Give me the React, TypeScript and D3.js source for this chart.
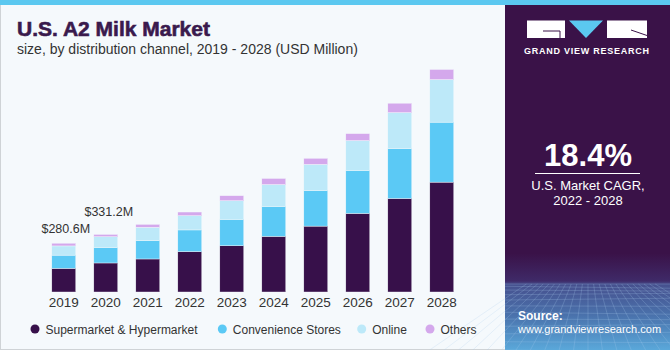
import React from "react";
import * as d3 from "d3";

const years = ["2019","2020","2021","2022","2023","2024","2025","2026","2027","2028"];
const supermarket = [136, 167, 190, 232, 266, 320, 379, 452, 538, 632];
const convenience = [76, 89, 105, 125, 152, 172, 205, 247, 287, 345];
const online = [53, 62, 77, 82, 107, 126, 150, 172, 207, 245];
const others = [15.6, 13.2, 17, 21, 29, 35, 35, 40, 54, 58];
const seriesNames = ["Supermarket & Hypermarket", "Convenience Stores", "Online", "Others"];
const seriesColors = ["#37104a", "#5bc9f5", "#bde9f9", "#d4a8ec"];
const annotations = [
  { year: "2019", label: "$280.6M" },
  { year: "2020", label: "$331.2M" },
];

const W = 670, H = 350;
const FONT = "'Liberation Sans', Arial, sans-serif";

export default function App() {
  const x = d3.scaleBand<string>().domain(years).range([42.8, 462.8]).paddingInner(0.43).paddingOuter(0.215);
  const y = d3.scaleLinear().domain([0, 1300]).range([292, 66]);
  const rows = years.map((yr, i) => ({
    year: yr, s0: supermarket[i], s1: convenience[i], s2: online[i], s3: others[i],
  }));
  const stack = d3.stack<any>().keys(["s0", "s1", "s2", "s3"])(rows);
  const totals = rows.map(r => r.s0 + r.s1 + r.s2 + r.s3);

  const legendX = [35, 222.3, 361.7, 430];
  const annoOffset = [{ dx: 2, dy: 10 }, { dx: 3, dy: 18 }];

  // perspective grid for panel bottom
  const gridLines: JSX.Element[] = [];
  for (let i = 0; i < 24; i++) {
    const gx = 500 + i * 8;
    gridLines.push(<line key={"v" + i} x1={588 + (gx - 588) * 0.7} y1={284} x2={588 + (gx - 588) * 1.8} y2={350} stroke="#a9cdee" strokeOpacity={0.4} strokeWidth={0.6} />);
  }
  for (let j = 0; j < 12; j++) {
    const gy = 284 + Math.pow(j / 11, 1.4) * 66;
    gridLines.push(<line key={"h" + j} x1={505} y1={gy} x2={670} y2={gy + Math.sin(j * 1.3) * 2} stroke="#a9cdee" strokeOpacity={0.4} strokeWidth={0.6} />);
  }

  return (
    <svg width={W} height={H} style={{ position: "absolute", left: 0, top: 0 }} fontFamily={FONT}>
      <defs>
        <linearGradient id="panelGrad" x1="0" y1="0" x2="0" y2="1">
          <stop offset="0" stopColor="#3a1248" />
          <stop offset="0.72" stopColor="#3a1248" />
          <stop offset="0.8" stopColor="#3f2a68" />
          <stop offset="0.81" stopColor="#46508e" />
          <stop offset="0.9" stopColor="#4a72ac" />
          <stop offset="1" stopColor="#5aa8da" />
        </linearGradient>
      </defs>
      <rect x={0} y={0} width={W} height={H} fill="#f5f9fc" />
      <rect x={0.5} y={0.5} width={W - 1} height={H - 1} fill="none" stroke="#cfd3d6" />
      <rect x={505} y={5} width={165} height={345} fill="url(#panelGrad)" />
      <g>{gridLines}</g>
      <rect x={0} y={0} width={W} height={5} fill="#5bc8f0" />

      <text x={17} y={35.5} fontSize={21} fontWeight="bold" fill="#3a1a4d" stroke="#3a1a4d" strokeWidth={0.6}>U.S. A2 Milk Market</text>
      <text x={17} y={53.5} fontSize={14} fill="#333">size, by distribution channel, 2019 - 2028 (USD Million)</text>

      {stack.map((s, k) => (
        <g key={k} fill={seriesColors[k]}>
          {s.map((d, i) => (
            <rect key={i} x={x(years[i])} y={y(d[1])} width={x.bandwidth()} height={y(d[0]) - y(d[1])} stroke="#f5f9fc" strokeWidth={0.4} />
          ))}
        </g>
      ))}

      {years.map(yr => (
        <text key={yr} x={(x(yr) || 0) + x.bandwidth() / 2} y={307} fontSize={13.5} textAnchor="middle" fill="#333">{yr}</text>
      ))}

      {annotations.map((a, j) => {
        const i = years.indexOf(a.year);
        return (
          <text key={a.year} x={(x(a.year) || 0) + x.bandwidth() / 2 + annoOffset[j].dx} y={y(totals[i]) - annoOffset[j].dy} fontSize={12.5} textAnchor="middle" fill="#333">{a.label}</text>
        );
      })}

      {seriesNames.map((n, k) => (
        <g key={n}>
          <circle cx={legendX[k]} cy={329} r={4.5} fill={seriesColors[k]} />
          <text x={legendX[k] + 10.5} y={333.5} fontSize={12} fill="#333">{n}</text>
        </g>
      ))}

      {/* logo */}
      <rect x={527} y={20.5} width={38} height={17.5} fill="#ffffff" />
      <path d="M543,31 H560 V38" fill="none" stroke="#3a1248" strokeWidth={1} />
      <path d="M569,20.5 L603,20.5 L586,38 Z" fill="#5bc8f0" />
      <rect x={607} y={20.5} width={40} height={17.5} fill="#ffffff" />
      <path d="M631,30 L647,35.5" fill="none" stroke="#3a1248" strokeWidth={1} />
      <text x={587} y={53.5} fontSize={9} fontWeight="bold" fill="#ffffff" textAnchor="middle" letterSpacing={0.75}>GRAND VIEW RESEARCH</text>

      <text x={588} y={166} fontSize={31} fontWeight="bold" fill="#ffffff" textAnchor="middle">18.4%</text>
      <line x1={535} x2={640} y1={173.5} y2={173.5} stroke="#ffffff" strokeWidth={1} />
      <text x={588} y={190} fontSize={13} fill="#ffffff" textAnchor="middle">U.S. Market CAGR,</text>
      <text x={588} y={205} fontSize={13} fill="#ffffff" textAnchor="middle">2022 - 2028</text>

      <text x={518} y={319.5} fontSize={12} fontWeight="bold" fill="#ffffff">Source:</text>
      <text x={518} y={333} fontSize={11} fill="#ffffff">www.grandviewresearch.com</text>
    </svg>
  );
}
